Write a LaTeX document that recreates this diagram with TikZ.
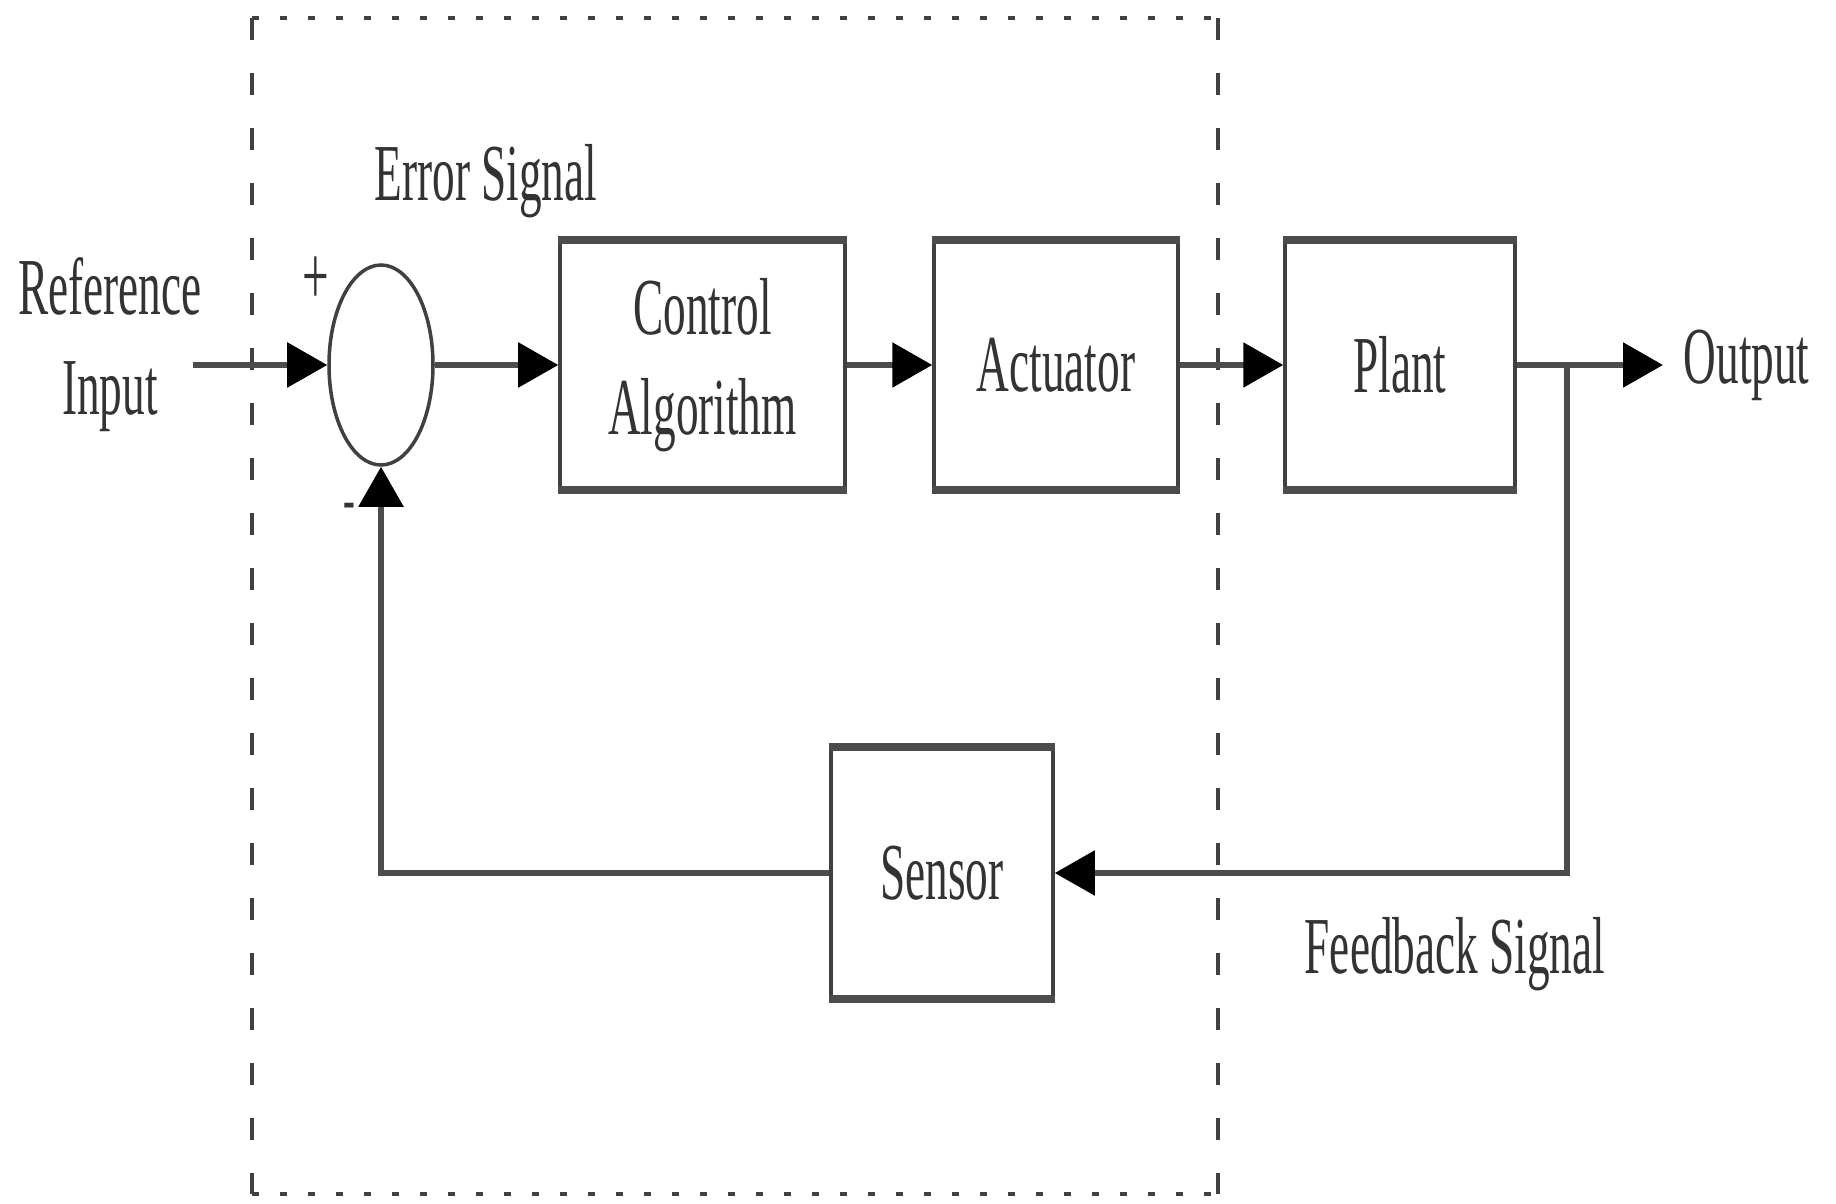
\documentclass[tikz,border=0pt]{standalone}
\usepackage{fontspec}
\setmainfont[FakeStretch=0.56]{Liberation Serif}
\usetikzlibrary{arrows.meta,shapes.geometric}
\tikzset{
  blk/.style={draw=black!75,line width=1pt,minimum height=2.46cm,inner sep=0pt,align=center,text=black!80},
  sig/.style={draw=black!70,line width=1.6pt,-{Triangle[length=0.4cm,width=0.44cm,color=black]}},
  lbl/.style={text=black!80,align=center,inner sep=0pt},
  dotframe/.style={black!75,line width=1.3pt,dash pattern=on 0.07cm off 0.21cm},
  dashframe/.style={black!75,line width=1pt,dash pattern=on 0.22cm off 0.33cm}
}
\begin{document}
\begin{tikzpicture}[font=\fontsize{23}{28.5}\selectfont]
\useasboundingbox (0,0) rectangle (18.36,12.03);
% controller frame
\draw[dotframe] (2.52,11.85) -- (12.18,11.85);
\draw[dotframe] (2.52,0.09) -- (12.18,0.09);
\draw[dashframe] (2.52,11.85) -- (2.52,0.09);
\draw[dashframe] (12.18,11.85) -- (12.18,0.09);
% blocks
\node[ellipse,draw=black!75,line width=1pt,minimum width=1.04cm,minimum height=2cm,inner sep=0pt] (sum) at (3.81,8.38) {};
\node[blk,minimum width=2.85cm] (ctrl) at (7.025,8.38) {Control\\Algorithm};
\node[blk,minimum width=2.44cm] (act) at (10.56,8.38) {Actuator};
\node[blk,minimum width=2.30cm] (plant) at (14.00,8.38) {Plant};
\node[blk,minimum width=2.22cm,minimum height=2.49cm] (sensor) at (9.42,3.30) {Sensor};
\foreach \b in {ctrl,act,plant,sensor}
  \draw[black!70,line width=2.4pt] (\b.north west) -- (\b.north east) (\b.south west) -- (\b.south east);
% labels
\node[lbl] (ref) at (1.10,8.58) {Reference\\Input};
\node[lbl] (err) at (4.86,10.22) {Error Signal};
\node[lbl] (fbs) at (14.55,2.49) {Feedback Signal};
\node[lbl,anchor=west,inner xsep=0.2cm] (out) at (16.63,8.38) {Output};
\node[lbl,font=\fontsize{24}{26}\selectfont] (plus) at (3.16,9.22) {+};
\node[lbl,font=\fontsize{18}{20}\selectfont] (minus) at (3.49,6.91) {-};
% signals
\coordinate (in) at (1.93,8.38);
\coordinate (fb) at (15.67,8.38);
\draw[sig] (in) -- (sum.west);
\draw[sig] (sum.east) -- (ctrl.west);
\draw[sig] (ctrl.east) -- (act.west);
\draw[sig] (act.east) -- (plant.west);
\draw[sig] (plant.east) -- (out.west);
\draw[sig] (fb) |- (sensor.east);
\draw[sig] (sensor.west) -| (sum.south);
\end{tikzpicture}
\end{document}
